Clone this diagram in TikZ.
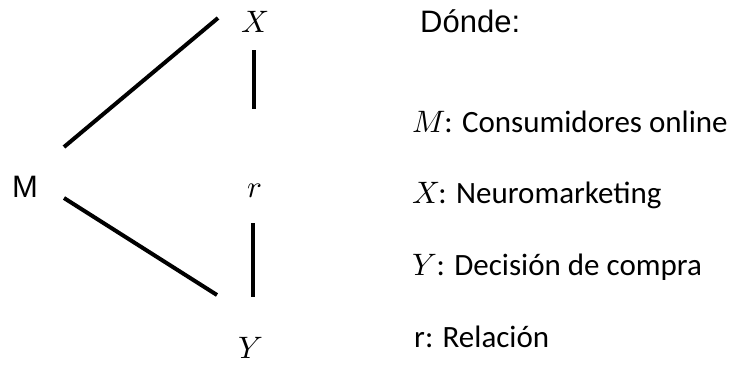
\documentclass[tikz,border=0pt]{standalone}
\usepackage{fontspec}
\usepackage{unicode-math}
\setmainfont{Carlito}
\setmathfont{Latin Modern Math}
\newfontfamily\arialfont{Liberation Sans}

\tikzset{
  var/.style={anchor=base, inner sep=0pt, font=\fontsize{31}{36}\selectfont},
  item/.style={anchor=base west, inner sep=0pt, font=\fontsize{31}{36}\selectfont},
  link/.style={line width=4pt}
}

\begin{document}
\begin{tikzpicture}[x=1pt,y=-1pt]
\useasboundingbox (0,0) rectangle (733,365);
% letters of the design
\node[var] (M) at (25,197) {\arialfont M};
\node[var] (X) at (255,32) {$X$};
\node[var] (r) at (255,197) {$r$};
\node[var] (Y) at (251,358) {$Y$};
% ends of the lines
\coordinate (mx) at (64,147);
\coordinate (xm) at (218,18);
\coordinate (my) at (64,198);
\coordinate (ym) at (217,295);
\coordinate (xa) at (254,50);
\coordinate (xb) at (254,109);
\coordinate (ra) at (253,223);
\coordinate (rb) at (253,297);
\draw[link] (mx) -- (xm);
\draw[link] (my) -- (ym);
\draw[link] (xa) -- (xb);
\draw[link] (ra) -- (rb);
% legend
\node[item] (donde) at (420,32) {\arialfont Dónde:};
\node[item] (lm) at (412,132) {$M$\kern-1pt: Consumidores online};
\node[item] (lx) at (412,203) {$X$\kern-1pt: Neuromarketing};
\node[item] (ly) at (412,275) {$Y$: Decisión de compra};
\node[item] (lr) at (414,347) {r: Relación};
\end{tikzpicture}
\end{document}
